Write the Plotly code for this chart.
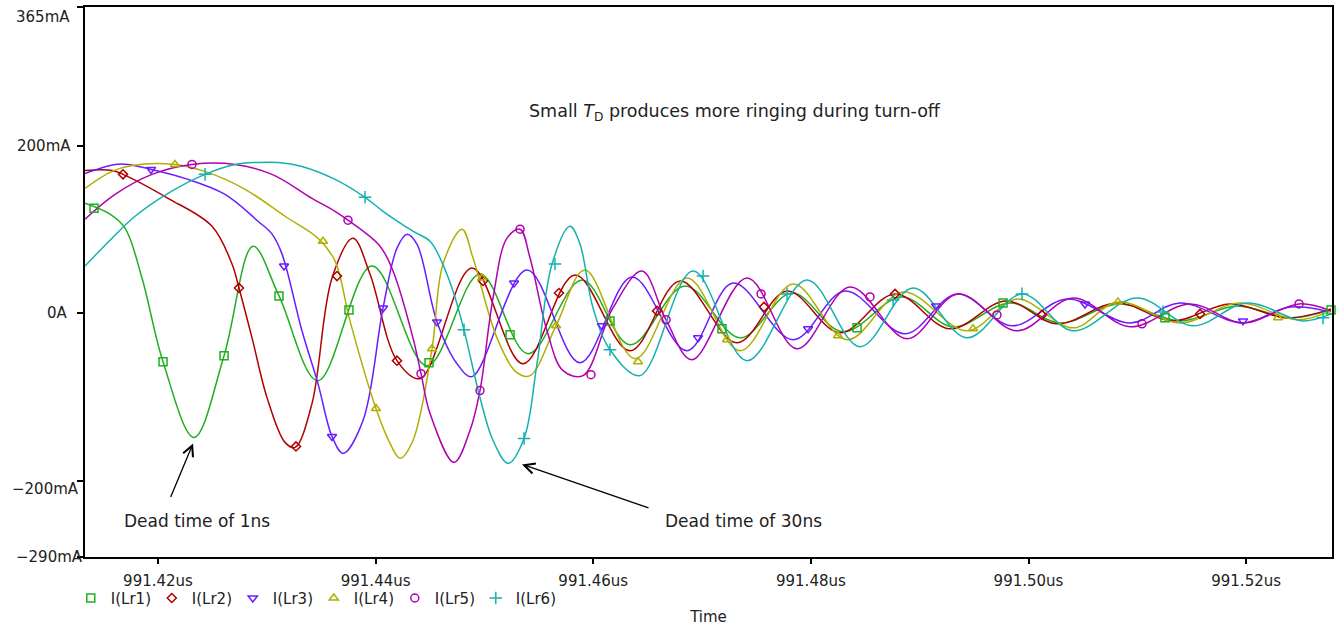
import plotly.graph_objects as go

T0 = 991.40  # us; times below are ns after T0

# ---- I(Lr1) ----
lr1_t = [13.29, 15.59, 16.97, 18.53, 20.46, 23.31, 26.07, 28.73, 31.12, 34.70, 39.67, 44.72, 49.59, 54.00,
         58.97, 63.38, 68.43, 73.49, 78.26, 82.95, 88.37, 93.06, 98.30, 102.89, 108.41, 113.92, 119.16,
         124.03, 127.80]
lr1_i = [131.2, 118.2, 101.6, 42.2, -57.4, -147.6, -50.3, 80.2, 20.9, -80.0, 56.5, -62.2, 47.0, -47.9,
         39.9, -37.3, 32.8, -29.0, 24.4, -21.8, 19.7, -15.9, 12.6, -11.2, 11.4, -8.8, 9.0, -5.2, 4.3]
lr1_mt = [14.12, 20.46, 26.07, 31.12, 37.55, 44.90, 52.35, 61.54, 71.83, 84.24, 97.66, 112.54, 127.80]
lr1_mi = [125.3, -57.4, -50.3, 20.9, 4.3, -58.6, -25.4, -8.8, -18.3, -17.1, 12.6, -5.2, 4.3]

# ---- I(Lr2) ----
lr2_t = [13.29, 15.77, 16.78, 20.92, 24.96, 26.80, 27.44, 28.64, 30.02, 31.67, 32.59, 34.15, 35.99, 37.92,
         39.48, 41.96, 44.08, 48.86, 53.54, 58.32, 63.38, 67.97, 73.21, 77.81, 82.68, 87.73, 92.78, 97.93,
         102.62, 108.13, 113.28, 118.52, 123.75, 127.80]
lr2_i = [170.4, 170.4, 165.7, 137.2, 103.9, 58.9, 30.4, -29.0, -100.2, -153.5, -159.5, -107.3, 42.2, 89.7,
         47.0, -56.2, -77.6, 54.1, -59.8, 45.8, -44.4, 38.7, -34.9, 26.8, -23.0, 23.3, -18.3, 15.0,
         -12.3, 12.6, -8.8, 11.4, -5.2, 5.5]
lr2_mt = [16.78, 27.44, 32.68, 36.45, 41.96, 49.87, 56.85, 65.86, 75.69, 87.73, 101.24, 115.76]
lr2_mi = [165.7, 30.4, -158.3, 44.6, -56.2, 38.7, 24.4, 3.1, 7.8, 23.3, -1.7, -0.5]

# ---- I(Lr3) ----
lr3_t = [13.29, 16.05, 17.24, 19.36, 22.48, 26.16, 29.19, 30.48, 31.40, 33.23, 34.70, 35.99, 37.00, 38.84,
         40.68, 41.96, 42.88, 43.80, 45.64, 47.48, 48.86, 53.91, 58.78, 63.56, 68.61, 72.84, 78.36, 83.14,
         88.65, 93.43, 98.50, 103.54, 109.33, 113.92, 119.62, 124.03, 127.80]
lr3_i = [166.8, 177.5, 177.5, 171.6, 160.9, 141.9, 109.9, 94.5, 70.7, -20.6, -83.5, -146.4, -166.6, -127.4,
         6.6, 77.8, 94.5, 82.6, -10.0, -59.8, -75.2, 51.7, -58.6, 43.4, -44.4, 36.3, -31.3, 26.8,
         -24.2, 23.3, -14.7, 17.3, -11.2, 12.6, -11.2, 7.8, 1.9]
lr3_mt = [19.36, 31.58, 35.99, 40.68, 45.64, 52.72, 60.80, 69.63, 79.74, 91.50, 105.19, 119.71]
lr3_mi = [171.6, 56.5, -146.4, 6.6, -10.0, 36.3, -14.7, -29.0, -18.3, 9.0, 11.4, -8.8]

# ---- I(Lr4) ----
lr4_t = [13.29, 15.77, 17.61, 21.56, 24.32, 28.00, 31.67, 34.70, 36.27, 37.64, 40.03, 41.32, 42.24, 43.43,
         45.18, 46.19, 47.94, 48.95, 51.15, 52.99, 54.19, 56.58, 59.24, 63.84, 68.62, 73.49, 78.36, 83.32,
         88.47, 94.35, 98.94, 104.09, 108.22, 113.92, 119.44, 124.67, 127.80]
lr4_i = [149.0, 169.2, 176.3, 177.5, 169.2, 147.9, 115.8, 89.7, 62.4, -8.8, -113.2, -154.7, -172.5, -151.2,
         -42.0, 58.9, 100.4, 66.0, -29.0, -70.5, -74.0, -14.7, 51.7, -53.9, 42.2, -44.4, 35.1, -31.3,
         25.6, -20.6, 17.3, -17.1, 13.8, -11.2, 12.6, -7.6, 3.1]
lr4_mt = [21.56, 35.16, 40.03, 45.18, 49.78, 56.58, 64.11, 72.29, 82.49, 94.90, 108.22, 122.93]
lr4_mi = [177.5, 86.1, -113.2, -42.0, 42.2, -14.7, -57.4, -31.3, -26.6, -18.3, 13.8, -5.2]

# ---- I(Lr5) ----
lr5_t = [13.29, 16.05, 19.45, 23.12, 27.08, 30.48, 34.15, 36.27, 37.46, 40.40, 41.60, 43.43, 44.17, 45.00,
         47.20, 48.67, 49.59, 50.79, 52.07, 53.27, 54.19, 55.75, 57.22, 59.06, 61.81, 64.48, 66.69, 69.07,
         74.13, 78.72, 83.59, 88.83, 93.52, 98.94, 104.09, 109.33, 114.84, 119.71, 124.86, 127.80]
lr5_i = [112.3, 141.9, 165.7, 177.5, 177.5, 165.7, 137.2, 121.7, 111.1, 80.2, 50.5, -29.0, -71.7, -119.1,
         -177.3, -139.3, -91.8, 18.5, 89.7, 100.4, 66.0, -20.6, -68.1, -74.0, 6.6, 50.5, -7.6, -55.1,
         42.2, -42.0, 31.6, -30.1, 23.3, -20.6, 18.5, -15.9, 11.4, -11.2, 11.4, 3.1]
lr5_mt = [23.12, 37.46, 44.17, 49.59, 53.27, 59.79, 66.69, 75.42, 85.43, 97.10, 110.43, 124.86]
lr5_mi = [177.5, 111.1, -71.7, -91.8, 100.4, -72.9, -7.6, 23.3, 19.7, -1.7, -12.3, 11.4]

# ---- I(Lr6) ----
lr6_t = [13.29, 15.77, 17.89, 20.92, 24.32, 27.08, 29.19, 31.03, 33.23, 36.27, 39.02, 40.68, 43.43, 45.00,
         45.92, 47.11, 48.12, 49.59, 50.79, 52.17, 53.64, 54.83, 56.21, 57.86, 58.78, 59.98, 61.54, 64.30,
         69.17, 74.13, 79.64, 84.51, 89.38, 94.35, 99.40, 104.09, 109.97, 115.12, 120.08, 125.22, 127.80]
lr6_i = [56.5, 89.7, 115.8, 143.1, 165.7, 177.5, 179.9, 179.9, 175.1, 159.7, 138.4, 121.7, 98.0, 86.1,
         66.0, 26.8, -19.5, -100.2, -151.2, -178.5, -148.8, -59.8, 58.9, 103.9, 82.6, 6.6, -43.2, -74.0,
         50.5, -56.2, 39.9, -39.6, 30.4, -29.0, 23.3, -20.6, 18.5, -14.7, 12.6, -8.8, -0.5]
lr6_mt = [24.32, 39.02, 48.12, 53.64, 56.48, 61.54, 70.09, 77.81, 87.55, 99.40, 112.36, 127.07]
lr6_mi = [165.7, 138.4, -19.5, -148.8, 58.9, -43.2, 44.6, 23.3, 16.1, 23.3, 1.9, -5.2]

names = ["I(Lr1)", "I(Lr2)", "I(Lr3)", "I(Lr4)", "I(Lr5)", "I(Lr6)"]
colors = ["#1fae1f", "#b00000", "#6a1cff", "#b0ae00", "#b000b0", "#16b0b0"]
symbols = ["square-open", "diamond-open", "triangle-down-open", "triangle-up-open", "circle-open", "cross-thin-open"]
msizes = [8, 7, 8, 8, 8, 9]

x_ticks = [991.42, 991.44, 991.46, 991.48, 991.50, 991.52]
x_ticktext = ["991.42us", "991.44us", "991.46us", "991.48us", "991.50us", "991.52us"]
y_ticks = [365, 200, 0, -200, -290]
y_ticktext = ["365mA", "200mA", "0A", "\u2212200mA", "\u2212290mA"]

series = [(lr1_t, lr1_i, lr1_mt, lr1_mi), (lr2_t, lr2_i, lr2_mt, lr2_mi), (lr3_t, lr3_i, lr3_mt, lr3_mi),
          (lr4_t, lr4_i, lr4_mt, lr4_mi), (lr5_t, lr5_i, lr5_mt, lr5_mi), (lr6_t, lr6_i, lr6_mt, lr6_mi)]


def us(ts):
    return [T0 + t / 1000.0 for t in ts]


FONT = "DejaVu Sans"
TXT = "#222222"
fig = go.Figure()
for k, (t, i, mt, mi) in enumerate(series):
    fig.add_trace(go.Scatter(x=us(t), y=i, mode="lines", line=dict(color=colors[k], width=1.5, shape="spline"),
                             showlegend=False, hoverinfo="skip"))
for k, (t, i, mt, mi) in enumerate(series):
    fig.add_trace(go.Scatter(x=us(mt), y=mi, mode="markers", name=names[k], cliponaxis=False,
                             marker=dict(symbol=symbols[k], size=msizes[k], color=colors[k],
                                         line=dict(color=colors[k], width=1.5))))

fig.update_layout(
    width=1340, height=631,
    margin=dict(l=85, r=8, t=5, b=74),
    paper_bgcolor="white", plot_bgcolor="white",
    font=dict(family=FONT, size=15, color=TXT),
    showlegend=True,
    legend=dict(orientation="h", x=-0.0114, xanchor="left", y=-0.075, yanchor="middle",
                font=dict(size=15, family=FONT), entrywidth=36, entrywidthmode="pixels",
                itemwidth=30, bgcolor="rgba(0,0,0,0)", tracegroupgap=0),
    xaxis=dict(range=[T0 + 13.29 / 1000, T0 + 127.89 / 1000], tickvals=x_ticks, ticktext=x_ticktext,
               ticks="outside", ticklen=5, tickwidth=1.5, tickcolor="black", showline=True,
               linecolor="black", linewidth=1.5, mirror=True, showgrid=False, zeroline=False,
               title=dict(text="Time", standoff=23, font=dict(size=15, family=FONT)),
               ticklabelstandoff=4, tickfont=dict(size=15, family=FONT)),
    yaxis=dict(range=[-290, 365], tickvals=y_ticks, ticktext=y_ticktext, showticklabels=False,
               ticks="outside", ticklen=6, tickwidth=1.5, tickcolor="black", showline=True,
               linecolor="black", linewidth=1.5, mirror=True, showgrid=False, zeroline=False),
)

# y tick labels (placed beside the ticks as in the original): (value, right edge px, shift down px)
ylab_pos = [(365, 72, 10), (200, 73, 0), (0, 70, 0), (-200, 81, 8), (-290, 85, 0)]
for (v, xr, dy), txt in zip(ylab_pos, y_ticktext):
    fig.add_annotation(x=0, xref="paper", y=v, yref="y", text=txt, showarrow=False, xanchor="right",
                       xshift=xr - 85, yshift=-dy, yanchor="middle",
                       font=dict(size=15, family=FONT, color=TXT))

fig.add_annotation(x=0.5212, xref="paper", y=0.808, yref="paper", xanchor="center", yanchor="middle",
                   text="Small <i>T</i><sub>D</sub> produces more ringing during turn-off", showarrow=False,
                   font=dict(size=17.5, family=FONT, color=TXT))
fig.add_annotation(x=0.0898, xref="paper", y=0.065, yref="paper", xanchor="center", yanchor="middle",
                   text="Dead time of 1ns", showarrow=False, font=dict(size=17, family=FONT, color=TXT))
fig.add_annotation(x=0.5277, xref="paper", y=0.065, yref="paper", xanchor="center", yanchor="middle",
                   text="Dead time of 30ns", showarrow=False, font=dict(size=17, family=FONT, color=TXT))
# arrows
fig.add_annotation(x=T0 + 23.22 / 1000, y=-154.7, ax=-23, ay=55, text="", showarrow=True, arrowhead=5,
                   arrowsize=1.6, arrowwidth=1.3, arrowcolor="black", standoff=0)
fig.add_annotation(x=T0 + 53.45 / 1000, y=-179.7, ax=128, ay=44, text="", showarrow=True, arrowhead=5,
                   arrowsize=1.6, arrowwidth=1.3, arrowcolor="black", standoff=0)

fig.write_html("out.html")
